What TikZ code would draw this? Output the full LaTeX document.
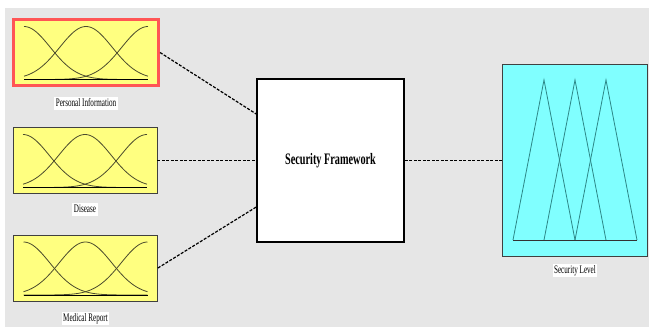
\documentclass[tikz,border=0pt]{standalone}
\usepackage{fontspec}
\setmainfont{Liberation Serif}
\usepackage{graphicx}
\usetikzlibrary{positioning}

\definecolor{bggray}{RGB}{230,230,230}
\definecolor{inyellow}{RGB}{255,255,128}
\definecolor{outcyan}{RGB}{128,255,255}
\definecolor{selred}{RGB}{255,85,85}
\definecolor{mfolive}{RGB}{75,75,45}
\definecolor{mfteal}{RGB}{45,135,135}

\newcommand{\narrowtext}[1]{\scalebox{0.62}[1]{#1}}

% three bell curves inside an input box
\newcommand{\bellcurves}[1]{
  \begin{scope}[shift={(#1.center)}]
    \foreach \mu in {-62,0,62}
      \draw[mfolive, line width=0.8pt] plot[domain=-62:62, samples=70, smooth]
        (\x, {27-53*exp(-(\x-(\mu))*(\x-(\mu))/1383)});
    \draw[black, line width=0.8pt] (-62,27) -- (62,27);
  \end{scope}
}

\tikzset{
  inbox/.style={draw=black!75, fill=inyellow, line width=0.8pt,
    minimum width=144pt, minimum height=66pt, inner sep=0pt},
  selbox/.style={inbox, draw=selred, line width=3pt, minimum width=145pt},
  lbl/.style={fill=white, inner sep=1.5pt, text height=8pt, text depth=2pt,
    font=\fontsize{11.5}{12}\selectfont},
  link/.style={draw=black, line width=1.2pt, dash pattern=on 3pt off 1.5pt}
}

\begin{document}
\begin{tikzpicture}[x=1pt, y=-1pt, node distance=10pt]
  \useasboundingbox (0,0) rectangle (649,327);
  \fill[white] (0,0) rectangle (649,327);
  \fill[bggray] (5,8) rectangle (649,327);

  % inputs
  \node[selbox] (pi) at (86,52.5) {};
  \node[inbox] (dis) at (85,160.5) {};
  \node[inbox] (med) at (85.5,268) {};
  \bellcurves{pi}
  \bellcurves{dis}
  \bellcurves{med}

  \node[lbl] (pilbl) [below=of pi] {\narrowtext{Personal Information}};
  \node[lbl] (dislbl) [below=9pt of dis] {\narrowtext{Disease}};
  \node[lbl] (medlbl) [below=10pt of med] {\narrowtext{Medical Report}};

  % framework
  \node[draw=black, fill=white, line width=1.5pt, minimum width=147pt,
    minimum height=163pt, font=\bfseries\fontsize{16}{18}\selectfont]
    (sf) at (330.5,160.5) {\scalebox{0.64}[1]{Security Framework}};

  % output
  \node[draw=black!75, fill=outcyan, line width=1pt, minimum width=145pt,
    minimum height=192pt] (sl) at (575,160.5) {};
  \begin{scope}[shift={(sl.center)}]
    \foreach \p in {-31,0,31}
      \draw[mfteal, line width=0.8pt] (\p-31,79.5) -- (\p,-80.5) -- (\p+31,79.5);
    \draw[black!80, line width=0.9pt] (-62,79.5) -- (62,79.5);
  \end{scope}
  \node[lbl] (sllbl) [below=7pt of sl] {\narrowtext{Security Level}};

  \path[link] (pi.east) edge ([yshift=46.5pt]sf.west);
  \path[link] (dis.east) edge (sf.west);
  \path[link] (med.east) edge ([yshift=-46.5pt]sf.west);
  \path[link] (sf.east) edge (sl.west);
\end{tikzpicture}
\end{document}
